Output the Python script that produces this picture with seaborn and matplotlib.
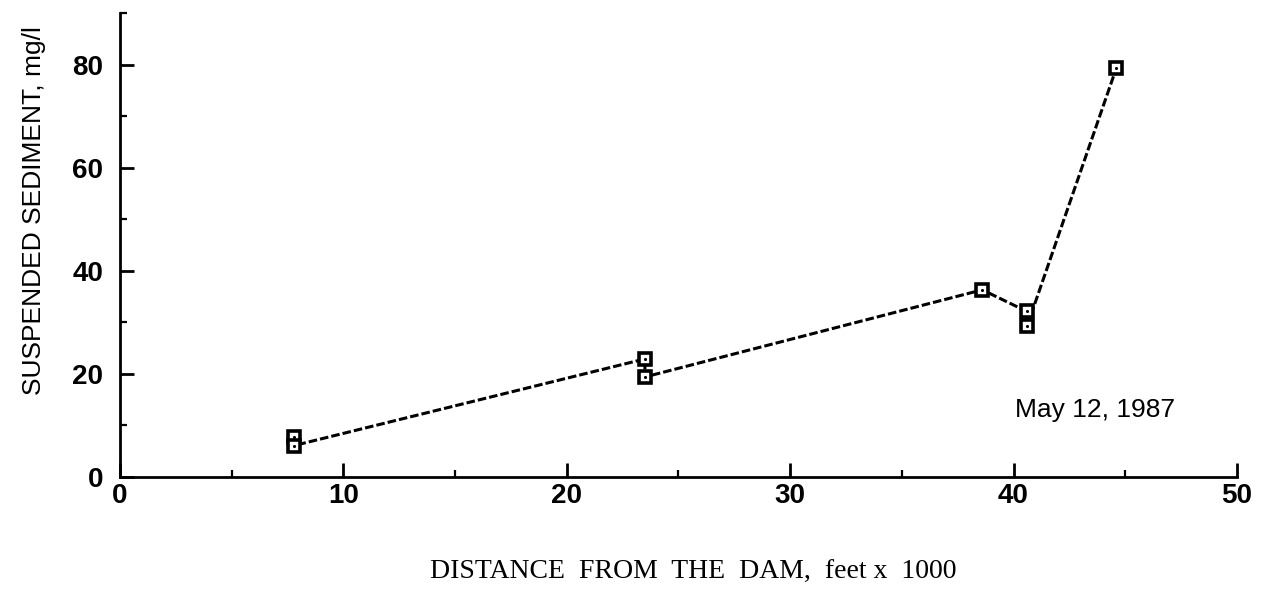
import numpy as np
import pandas as pd
import seaborn as sns
import matplotlib.pyplot as plt
from matplotlib.ticker import MultipleLocator

# 数据
distance = [7.8, 7.8, 23.5, 23.5, 38.6, 40.6, 40.6, 44.6]
sediment = [7.7, 6.1, 22.9, 19.4, 36.3, 32.1, 29.2, 79.3]
x_ticks = [0, 10, 20, 30, 40, 50]
y_ticks = [0, 20, 40, 60, 80]
date_label = "May 12, 1987"

sns.set_style("ticks")
plt.rcParams.update({
    'font.family': ['Liberation Sans', 'DejaVu Sans'],
    'axes.linewidth': 2.0,
    'axes.edgecolor': 'black',
    'axes.labelcolor': 'black',
    'text.color': 'black',
    'xtick.color': 'black',
    'ytick.color': 'black',
})

df = pd.DataFrame({'distance': distance, 'sediment': sediment})

fig = plt.figure(figsize=(12.68, 5.89), dpi=100)
ax = fig.add_axes([0.0946, 0.1902, 0.8809, 0.7877])

# 折线 + 方形标记
sns.lineplot(data=df, x='distance', y='sediment', ax=ax, sort=False,
             estimator=None, color='black', linewidth=2.2,
             dashes=False, marker='s', markersize=9, markerfacecolor='white',
             markeredgecolor='black', markeredgewidth=2.6)
ax.lines[0].set_dashes((2.8, 1.0))
# 标记中心的小点
sns.scatterplot(data=df, x='distance', y='sediment', ax=ax, color='black',
                s=5, linewidth=0, zorder=5)

ax.set_xlim(0, 50)
ax.set_ylim(0, 90)
ax.set_xticks(x_ticks)
ax.set_yticks(y_ticks)
ax.xaxis.set_minor_locator(MultipleLocator(5))
ax.yaxis.set_minor_locator(MultipleLocator(10))
ax.tick_params(axis='both', which='major', direction='in', length=10, width=2.0,
               labelsize=20)
ax.tick_params(axis='both', which='minor', direction='in', length=5, width=1.6)
ax.tick_params(axis='x', which='major', pad=4)
ax.tick_params(axis='y', which='major', pad=12)
for lab in ax.get_xticklabels() + ax.get_yticklabels():
    lab.set_fontweight('bold')

sns.despine(ax=ax)

ax.set_xlabel("DISTANCE  FROM  THE  DAM,  feet x  1000", fontsize=20,
              family=['Liberation Serif', 'DejaVu Serif'])
ax.xaxis.set_label_coords(0.513, -0.206)
ax.xaxis.label.set_va('center')

ax.set_ylabel("SUSPENDED SEDIMENT, mg/l", fontsize=19)
ax.yaxis.set_label_coords(-0.077, 0.575)
ax.yaxis.label.set_va('center')

ax.text(40.06, 11.6, date_label, fontsize=19, ha='left', va='baseline')

fig.savefig('out.png', dpi=100)
